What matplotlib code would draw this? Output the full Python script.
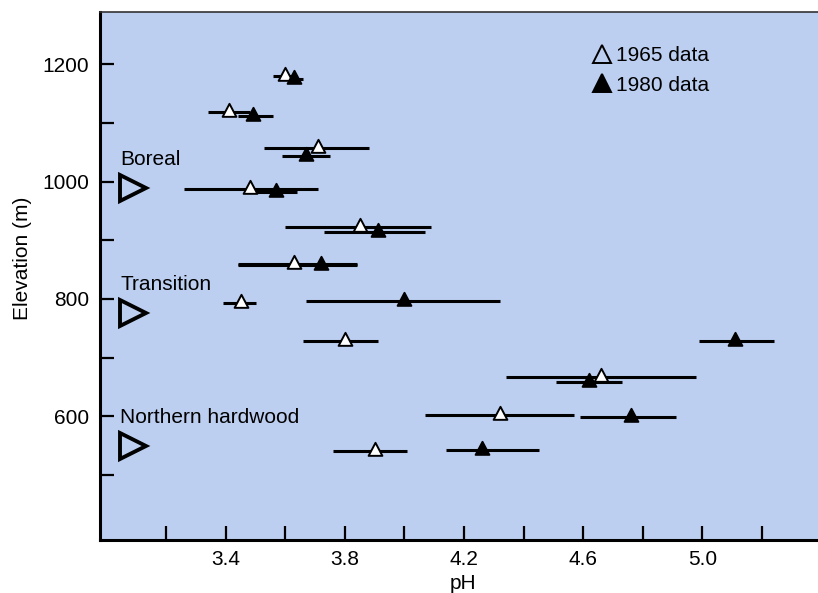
import numpy as np
import matplotlib
matplotlib.use('Agg')
import matplotlib.pyplot as plt
from matplotlib.path import Path
from matplotlib.lines import Line2D

plt.rcParams['font.family'] = ['Liberation Sans', 'DejaVu Sans']

# 1965 survey: elevation (m), mean pH and range
elev_1965 = [1180, 1118, 1057, 988, 923, 859, 793, 728, 667, 602, 541]
ph_1965 = [3.60, 3.41, 3.71, 3.48, 3.85, 3.63, 3.45, 3.80, 4.66, 4.32, 3.90]
lo_1965 = [3.56, 3.34, 3.53, 3.26, 3.60, 3.44, 3.39, 3.66, 4.34, 4.07, 3.76]
hi_1965 = [3.64, 3.48, 3.88, 3.71, 4.09, 3.84, 3.50, 3.91, 4.98, 4.57, 4.01]

# 1980 survey
elev_1980 = [1175, 1111, 1043, 982, 914, 857, 796, 728, 658, 599, 542]
ph_1980 = [3.63, 3.49, 3.67, 3.57, 3.91, 3.72, 4.00, 5.11, 4.62, 4.76, 4.26]
lo_1980 = [3.60, 3.44, 3.59, 3.50, 3.73, 3.44, 3.67, 4.99, 4.51, 4.59, 4.14]
hi_1980 = [3.66, 3.56, 3.75, 3.64, 4.07, 3.84, 4.32, 5.24, 4.73, 4.91, 4.45]

# forest zones marked on the left
zones = ['Boreal', 'Transition', 'Northern hardwood']
zone_elev = [989, 776, 549]
zone_ph = 3.09

xticks_major = [3.4, 3.8, 4.2, 4.6, 5.0]
xticks_minor = [3.2, 3.6, 4.0, 4.4, 4.8, 5.2]
yticks_major = [600, 800, 1000, 1200]
yticks_minor = [500, 700, 900, 1100]

bg = '#bccff0'
fs = 15

# triangle whose lower third is crossed by the range bar
tri = Path([(-0.95, -0.6), (0.95, -0.6), (0, 1.2), (-0.95, -0.6)],
           [Path.MOVETO, Path.LINETO, Path.LINETO, Path.CLOSEPOLY])

fig = plt.figure(figsize=(8.18, 5.93), dpi=100)
ax = fig.add_axes([100 / 818, 53 / 593, 718 / 818, 528 / 593])
ax.set_facecolor(bg)

ax.hlines(elev_1965, lo_1965, hi_1965, color='black', lw=2.2, zorder=2)
ax.hlines(elev_1980, lo_1980, hi_1980, color='black', lw=2.2, zorder=2)
ax.plot(ph_1965, elev_1965, ls='none', marker=tri, ms=12.5,
        mfc='white', mec='black', mew=1.4, zorder=3)
ax.plot(ph_1980, elev_1980, ls='none', marker=tri, ms=12.5,
        mfc='black', mec='black', mew=1.4, zorder=4)

ax.plot([zone_ph] * len(zone_elev), zone_elev, ls='none', marker='>', ms=19,
        mfc='none', mec='black', mew=2.8)
for name, e in zip(zones, zone_elev):
    ax.annotate(name, (zone_ph, e), xytext=(-9.5, 20.5), textcoords='offset points',
                ha='left', va='center', fontsize=fs)

ax.set_xlim(2.978, 5.388)
ax.set_ylim(389, 1289)
ax.set_xticks(xticks_major)
ax.set_xticks(xticks_minor, minor=True)
ax.set_xticklabels([f'{v:.1f}' for v in xticks_major])
ax.set_yticks(yticks_major)
ax.set_yticks(yticks_minor, minor=True)
ax.tick_params(which='both', direction='in', length=10, width=1.6,
               top=False, right=False, labelsize=fs)
ax.tick_params(axis='y', pad=8)
ax.tick_params(axis='x', pad=7)

for side in ['left', 'bottom']:
    ax.spines[side].set_linewidth(2.2)
ax.spines['top'].set_linewidth(1.2)
ax.spines['top'].set_color('#333333')
ax.spines['right'].set_visible(False)

ax.set_xlabel('pH', fontsize=fs)
ax.xaxis.set_label_coords(0.505, -0.064)
ax.set_ylabel('Elevation (m)', fontsize=fs)
ax.yaxis.set_label_coords(-0.095, 0.533)

handles = [
    Line2D([], [], ls='none', marker='^', ms=13, mfc='none', mec='black', mew=1.4),
    Line2D([], [], ls='none', marker='^', ms=13, mfc='black', mec='black', mew=1.4),
]
ax.legend(handles, ['1965 data', '1980 data'], loc='upper left',
          bbox_to_anchor=(0.6845, 0.935), frameon=False, fontsize=fs,
          borderpad=0, borderaxespad=0, handlelength=1.0, handletextpad=0.2,
          labelspacing=0.5)

fig.savefig('out.png', dpi=100)
plt.close()
